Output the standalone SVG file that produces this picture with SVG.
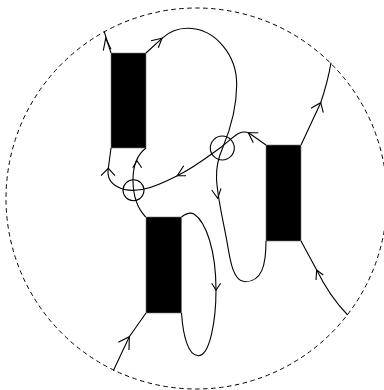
<svg xmlns="http://www.w3.org/2000/svg" width="384" height="390" viewBox="0 0 384 390">
<style>
.l{fill:none;stroke:#000;stroke-width:1.1}
.b{fill:#000;stroke:#777;stroke-width:.6}
.d{fill:none;stroke:#000;stroke-width:1;stroke-dasharray:4.500 3.500}
</style>
<circle class="d" cx="196.500" cy="198.500" r="190.500"/>
<g id="node-a"><rect class="b" x="111" y="53" width="35" height="95"/></g>
<g id="node-b"><rect class="b" x="146" y="217" width="35.500" height="96"/></g>
<g id="node-c"><rect class="b" x="266" y="145" width="35" height="96"/></g>
<g id="crossing-1"><circle class="l" cx="133.500" cy="190.300" r="10.500"/></g>
<g id="crossing-2"><circle class="l" cx="222.300" cy="148" r="12"/></g>
<g id="connectors">
<path class="l" d="M111 53L104 31"/>
<path class="l" d="M103.300 50.700L105.700 38.300L111 49.300"/>
<path class="l" d="M146 53L162 38.300C170 31 180 28 189 28.300C215 29 237 55 236.700 85C236.500 110 230 130 223 147C219 156 216 165 216.500 178C217 195 222 215 226.700 240C230 260 233 281.700 245 281.700C262 281.700 266 265 266 241"/>
<path class="l" d="M151 40.700L162 38.300L158.300 47.700"/>
<path class="l" d="M211.700 190L217.700 198.300L221 188.300"/>
<path class="l" d="M266 145L249 133C240 129 234 137 221.700 146.700C210 155 195 167 177.300 175.700C165 182 154 187 143.300 189.300C134 191 125 191 118 187C110 183 107 176 108.300 168.300L111 148"/>
<path class="l" d="M258.300 132.700L248.300 132.700L253.300 142.700"/>
<path class="l" d="M186 175.700L177.300 175.700L183.700 165.700"/>
<path class="l" d="M101 175.700L108.300 168.300L115 175.700"/>
<path class="l" d="M146 148C138 154 133 165 133 180C133 197 137 208 145.700 217"/>
<path class="l" d="M132.700 167.700L137 160.700L141.700 167.700"/>
<path class="l" d="M181.500 217C186 213.500 190 212 194 214C206 222 216 250 216 290C216 320 210 355.700 198.300 355.700C188 355.700 183 335 181.500 313"/>
<path class="l" d="M211.700 283.300L216 290L220.700 283.300"/>
<path class="l" d="M146 313L129.300 336.700L113.300 370.700"/>
<path class="l" d="M118.300 342.300L129.300 336.700L129 350"/>
<path class="l" d="M301 145L320.700 102.700C325 90 329 75 331 62.700"/>
<path class="l" d="M311 108.300L320.700 102.700L323.300 112.700"/>
<path class="l" d="M301 241L316.700 270C325 287 336 303 347.700 315"/>
<path class="l" d="M316 280L316.700 270L323.300 275"/>
</g>
</svg>
